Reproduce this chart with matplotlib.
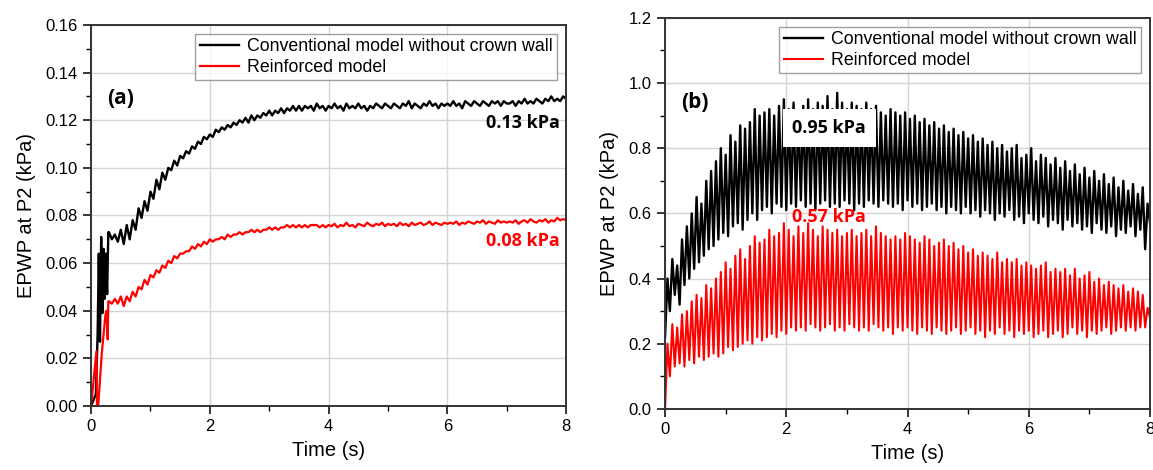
import numpy as np
import matplotlib
matplotlib.use("Agg")
import matplotlib.pyplot as plt
from matplotlib.ticker import MultipleLocator

plt.rcParams["font.family"] = "Liberation Sans"

# ---------- panel (a): smooth rise ----------
# first 0.3 s, read point by point
a_black_t0 = [0, 0.08, 0.11, 0.13, 0.15, 0.17, 0.19, 0.21, 0.23, 0.25, 0.27, 0.29]
a_black_y0 = [0, 0.005, 0.030, 0.064, 0.027, 0.071, 0.039, 0.066, 0.045, 0.064, 0.047, 0.073]
a_red_t0 = [0, 0.09, 0.10, 0.12, 0.18, 0.24, 0.26, 0.28, 0.29]
a_red_y0 = [0, 0.023, 0.0, 0.0, 0.022, 0.038, 0.040, 0.028, 0.044]

# from 0.30 s to 8.00 s, every 0.05 s
a_black = [
    0.073, 0.070, 0.072, 0.069, 0.074, 0.068, 0.076, 0.070, 0.078, 0.074,
    0.083, 0.079, 0.086, 0.082, 0.090, 0.087, 0.095, 0.091, 0.098, 0.095,
    0.100, 0.099, 0.103, 0.101, 0.105, 0.104, 0.107, 0.106, 0.109, 0.108,
    0.111, 0.110, 0.113, 0.112, 0.114, 0.113, 0.116, 0.115, 0.117, 0.116,
    0.118, 0.117, 0.119, 0.118, 0.120, 0.119, 0.121, 0.119, 0.122, 0.120,
    0.122, 0.121, 0.123, 0.122, 0.124, 0.122, 0.124, 0.123, 0.125, 0.123,
    0.125, 0.124, 0.126, 0.124, 0.126, 0.124, 0.126, 0.125, 0.126, 0.124,
    0.127, 0.125, 0.126, 0.124, 0.126,
    0.125, 0.127, 0.125, 0.126, 0.124, 0.127, 0.125, 0.126, 0.125, 0.127,
    0.125, 0.126, 0.124, 0.126, 0.125, 0.127, 0.126, 0.125, 0.127, 0.126,
    0.125, 0.127, 0.126, 0.125, 0.127, 0.126, 0.128, 0.125, 0.127, 0.126,
    0.125, 0.127, 0.126, 0.128, 0.126, 0.127, 0.125, 0.127, 0.126, 0.127,
    0.126, 0.128, 0.126, 0.127, 0.125, 0.128, 0.127, 0.126, 0.128, 0.127,
    0.126, 0.128, 0.127, 0.126, 0.128, 0.127, 0.128, 0.126, 0.128, 0.127,
    0.127, 0.128, 0.126, 0.128, 0.127, 0.129, 0.127, 0.128, 0.127, 0.129,
    0.128, 0.127, 0.129, 0.128, 0.130, 0.128, 0.129, 0.128, 0.130, 0.129,
]
a_red = [
    0.044, 0.043, 0.045, 0.043, 0.046, 0.042, 0.046, 0.044, 0.048, 0.046,
    0.050, 0.049, 0.053, 0.051, 0.055, 0.054, 0.057, 0.056, 0.059, 0.058,
    0.061, 0.060, 0.063, 0.062, 0.064, 0.064, 0.065, 0.065, 0.067, 0.066,
    0.068, 0.067, 0.069, 0.068, 0.070, 0.069, 0.070, 0.070, 0.071, 0.070,
    0.072, 0.071, 0.072, 0.072, 0.073, 0.072, 0.073, 0.073, 0.074, 0.073,
    0.074, 0.073, 0.074, 0.074, 0.075, 0.074, 0.075, 0.074, 0.075, 0.075,
    0.076, 0.075, 0.076, 0.075, 0.076, 0.075, 0.076, 0.075, 0.076, 0.076,
    0.076, 0.075, 0.076, 0.075, 0.076,
    0.0755, 0.0765, 0.075, 0.076, 0.0755, 0.077, 0.0755, 0.076, 0.075, 0.0765,
    0.076, 0.0755, 0.077, 0.076, 0.0755, 0.0765, 0.076, 0.077, 0.0755, 0.0765,
    0.076, 0.0765, 0.0755, 0.077, 0.076, 0.0765, 0.0755, 0.077, 0.076, 0.0765,
    0.077, 0.076, 0.0765, 0.0775, 0.076, 0.077, 0.0765, 0.076, 0.077, 0.0765,
    0.077, 0.0765, 0.0775, 0.076, 0.077, 0.0765, 0.0775, 0.077, 0.0765, 0.0775,
    0.077, 0.078, 0.0765, 0.0775, 0.077, 0.0765, 0.078, 0.077, 0.0775, 0.077,
    0.0775, 0.077, 0.078, 0.0765, 0.0775, 0.078, 0.077, 0.0785, 0.0775, 0.077,
    0.078, 0.0775, 0.0785, 0.077, 0.078, 0.0775, 0.079, 0.078, 0.0785, 0.078,
]

# ---------- panel (b): oscillating, one peak + one trough per cycle ----------
cycle = 0.08  # s
b_black_start = 0.22
b_black_peaks = [
    0.40, 0.46, 0.44, 0.52, 0.56, 0.60, 0.65, 0.63, 0.70, 0.73,
    0.76, 0.80, 0.78, 0.84, 0.82, 0.87, 0.86, 0.88, 0.92, 0.90,
    0.91, 0.92, 0.90, 0.93, 0.95, 0.92, 0.94, 0.91, 0.93, 0.95,
    0.92, 0.94, 0.93, 0.96, 0.92, 0.97, 0.94, 0.92, 0.94, 0.93,
    0.92, 0.94, 0.92, 0.93, 0.91, 0.90, 0.92, 0.91, 0.90, 0.91,
    0.89, 0.90, 0.88, 0.89, 0.87, 0.88, 0.86, 0.87, 0.85, 0.86,
    0.84, 0.85, 0.83, 0.84, 0.82, 0.83, 0.81, 0.82, 0.80, 0.81,
    0.79, 0.80, 0.81, 0.77, 0.78, 0.80, 0.76, 0.78, 0.77, 0.75,
    0.77, 0.74, 0.76, 0.73, 0.75, 0.72, 0.74, 0.71, 0.73, 0.70,
    0.72, 0.69, 0.71, 0.68, 0.70, 0.67, 0.69, 0.66, 0.68, 0.63,
]
b_black_troughs = [
    0.30, 0.35, 0.32, 0.38, 0.40, 0.43, 0.45, 0.47, 0.49, 0.50,
    0.52, 0.54, 0.53, 0.56, 0.57, 0.55, 0.58, 0.60, 0.58, 0.61,
    0.62, 0.60, 0.63, 0.62, 0.61, 0.63, 0.62, 0.64, 0.62, 0.63,
    0.61, 0.63, 0.64, 0.62, 0.63, 0.62, 0.64, 0.63, 0.61, 0.63,
    0.62, 0.64, 0.63, 0.62, 0.64, 0.63, 0.62, 0.63, 0.61, 0.64,
    0.62, 0.63, 0.61, 0.62, 0.63, 0.61, 0.62, 0.60, 0.62, 0.61,
    0.60, 0.62, 0.60, 0.61, 0.59, 0.61, 0.60, 0.58, 0.60, 0.59,
    0.61, 0.58, 0.59, 0.57, 0.60, 0.58, 0.57, 0.59, 0.56, 0.58,
    0.57, 0.55, 0.58, 0.56, 0.57, 0.55, 0.56, 0.54, 0.57, 0.55,
    0.54, 0.56, 0.53, 0.55, 0.54, 0.56, 0.53, 0.55, 0.49, 0.57,
]
b_red_start = 0.0
b_red_peaks = [
    0.20, 0.26, 0.25, 0.29, 0.30, 0.33, 0.35, 0.34, 0.38, 0.37,
    0.40, 0.42, 0.45, 0.43, 0.47, 0.49, 0.46, 0.50, 0.53, 0.51,
    0.52, 0.55, 0.53, 0.54, 0.57, 0.55, 0.53, 0.56, 0.54, 0.57,
    0.55, 0.53, 0.56, 0.55, 0.54, 0.55, 0.53, 0.54, 0.55, 0.53,
    0.54, 0.55, 0.53, 0.56, 0.54, 0.53, 0.52, 0.53, 0.52, 0.54,
    0.53, 0.52, 0.51, 0.53, 0.52, 0.50, 0.51, 0.52, 0.50, 0.51,
    0.49, 0.50, 0.48, 0.49, 0.47, 0.48, 0.47, 0.46, 0.48, 0.45,
    0.46, 0.45, 0.46, 0.44, 0.45, 0.44, 0.43, 0.44, 0.45, 0.42,
    0.43, 0.42, 0.43, 0.41, 0.43, 0.40, 0.41, 0.42, 0.39, 0.40,
    0.38, 0.39, 0.38, 0.37, 0.38, 0.36, 0.37, 0.36, 0.35, 0.31,
]
b_red_troughs = [
    0.10, 0.13, 0.14, 0.13, 0.15, 0.14, 0.16, 0.15, 0.16, 0.17,
    0.16, 0.17, 0.19, 0.18, 0.19, 0.20, 0.21, 0.20, 0.22, 0.21,
    0.22, 0.23, 0.22, 0.24, 0.23, 0.25, 0.24, 0.25, 0.24, 0.26,
    0.25, 0.24, 0.25, 0.26, 0.24, 0.25, 0.24, 0.26, 0.25, 0.24,
    0.25, 0.24, 0.26, 0.25, 0.24, 0.25, 0.23, 0.25, 0.24, 0.25,
    0.24, 0.23, 0.25, 0.24, 0.23, 0.25, 0.24, 0.23, 0.24, 0.25,
    0.23, 0.24, 0.25, 0.23, 0.24, 0.22, 0.24, 0.23, 0.25, 0.23,
    0.24, 0.22, 0.24, 0.23, 0.24, 0.22, 0.23, 0.24, 0.22, 0.23,
    0.24, 0.22, 0.23, 0.25, 0.23, 0.24, 0.22, 0.24, 0.23, 0.24,
    0.25, 0.23, 0.24, 0.25, 0.24, 0.25, 0.24, 0.25, 0.25, 0.28,
]

labels = ["Conventional model without crown wall", "Reinforced model"]


def zigzag(start, peaks, troughs):
    y = np.empty(2 * len(peaks) + 1)
    y[0] = start
    y[1::2] = peaks
    y[2::2] = troughs
    t = np.arange(len(y)) * cycle / 2
    return t, y


def style_axes(ax, ymax, ymaj, ymin, fmt):
    ax.set_xlim(0, 8)
    ax.set_ylim(0, ymax)
    ax.xaxis.set_major_locator(MultipleLocator(2))
    ax.xaxis.set_minor_locator(MultipleLocator(1))
    ax.yaxis.set_major_locator(MultipleLocator(ymaj))
    ax.yaxis.set_minor_locator(MultipleLocator(ymin))
    ax.yaxis.set_major_formatter(fmt)
    ax.grid(True, which="major", color="#d4d4d4", linewidth=1.0)
    ax.set_axisbelow(True)
    ax.tick_params(which="major", direction="out", length=6, width=1.1, labelsize=12)
    ax.tick_params(which="minor", direction="out", length=3.5, width=1.0)
    for s in ax.spines.values():
        s.set_linewidth(1.4)
        s.set_color("#333333")
    ax.set_xlabel("Time (s)", fontsize=14.5, labelpad=5)
    ax.set_ylabel("EPWP at P2 (kPa)", fontsize=14.5, labelpad=7)
    leg = ax.legend(loc="upper right", fontsize=12.8, frameon=True, fancybox=False,
                    edgecolor="#888888", handlelength=2.2, borderaxespad=0.5,
                    labelspacing=0.2, borderpad=0.25, handletextpad=0.45)
    leg.get_frame().set_linewidth(1.0)


fig = plt.figure(figsize=(11.53, 4.70), dpi=100)
ax1 = fig.add_axes([0.0790, 0.136, 0.412, 0.811])
ax2 = fig.add_axes([0.5768, 0.130, 0.4206, 0.832])

# panel (a)
t_reg = np.linspace(0.30, 8.0, len(a_black))
ax1.plot(np.concatenate([a_black_t0, t_reg]), np.concatenate([a_black_y0, a_black]),
         color="black", linewidth=1.7, label=labels[0])
ax1.plot(np.concatenate([a_red_t0, t_reg]), np.concatenate([a_red_y0, a_red]),
         color="red", linewidth=1.6, label=labels[1])
style_axes(ax1, 0.16, 0.02, 0.01, "{x:.2f}")
ax1.text(0.49, 0.129, "(a)", fontsize=15, fontweight="bold", family="Open Sans",
         ha="center", va="center")
ax1.text(7.9, 0.1187, "0.13 kPa", fontsize=13, fontweight="bold", family="Open Sans",
         ha="right", va="center", color="black")
ax1.text(7.9, 0.0695, "0.08 kPa", fontsize=13, fontweight="bold", family="Open Sans",
         ha="right", va="center", color="red")

# panel (b)
tb, yb = zigzag(b_black_start, b_black_peaks, b_black_troughs)
tr, yr = zigzag(b_red_start, b_red_peaks, b_red_troughs)
ax2.plot(tb, yb, color="black", linewidth=1.7, label=labels[0])
ax2.plot(tr, yr, color="red", linewidth=1.5, label=labels[1])
style_axes(ax2, 1.2, 0.2, 0.1, "{x:.1f}")
ax2.text(0.5, 0.94, "(b)", fontsize=15, fontweight="bold", family="Open Sans",
         ha="center", va="center")
ax2.text(2.71, 0.862, "0.95 kPa", fontsize=13, fontweight="bold", family="Open Sans",
         ha="center", va="center", color="black", zorder=5,
         bbox=dict(boxstyle="square,pad=0.55", facecolor="white", edgecolor="none"))
ax2.text(2.71, 0.588, "0.57 kPa", fontsize=13, fontweight="bold", family="Open Sans",
         ha="center", va="center", color="red", zorder=5)

fig.savefig("out.png", dpi=100)
